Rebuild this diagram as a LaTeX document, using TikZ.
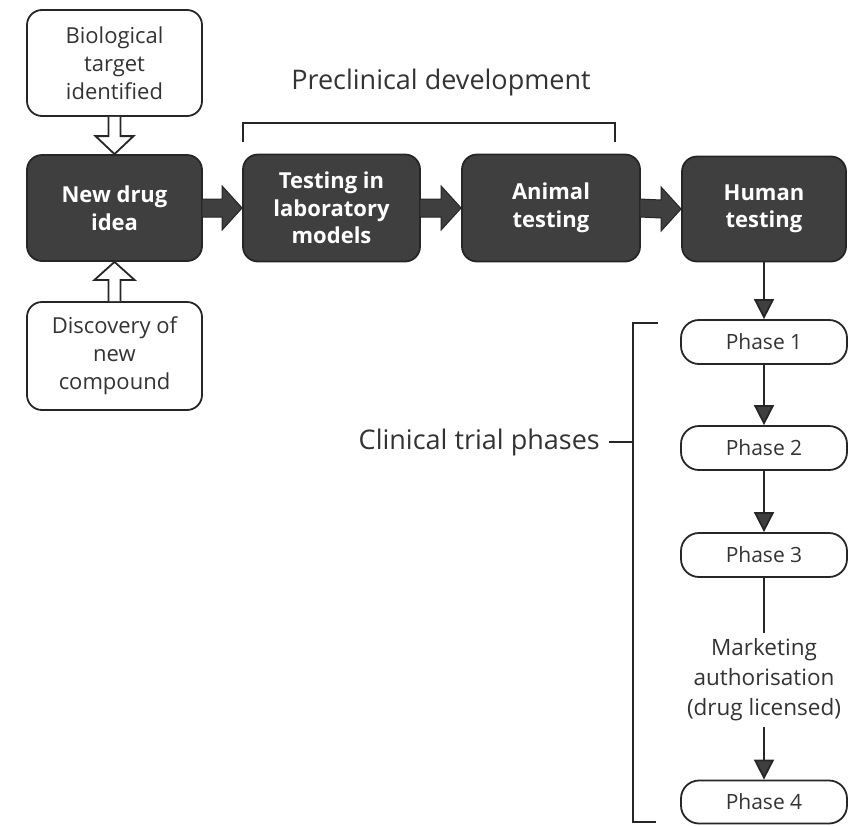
\documentclass[tikz,border=0pt]{standalone}
\usepackage{fontspec}
\setmainfont{Open Sans}
\usetikzlibrary{arrows.meta,calc}
\definecolor{boxdark}{HTML}{3F3F3F}
\definecolor{txt}{HTML}{333333}
\begin{document}
\begin{tikzpicture}[x=1pt,y=-1pt,
  whitebox/.style={draw=black!85,line width=1.8pt,rounded corners=15pt,fill=white,
    text=txt,font=\fontsize{22}{28}\selectfont,align=center,minimum width=175pt,minimum height=106pt,inner sep=0pt},
  darkbox/.style={draw=black!85,line width=1.8pt,rounded corners=15pt,fill=boxdark,
    text=white,font=\bfseries\fontsize{22}{27.5}\selectfont,align=center,inner sep=0pt},
  phasebox/.style={draw=black!85,line width=1.8pt,rounded corners=18pt,fill=white,
    text=txt,font=\fontsize{21}{24}\selectfont,minimum width=166pt,minimum height=44pt,inner sep=0pt},
  hollow/.style={draw=black!85,line width=1.8pt,fill=white,line join=miter},
  solidarr/.style={draw=black!85,line width=1pt,fill=boxdark,line join=miter},
  thinarr/.style={draw=black!85,line width=1.8pt,-{Triangle[width=20pt,length=20pt,fill=boxdark]}},
  brk/.style={draw=black!85,line width=1.8pt},
  lbl/.style={text=txt,font=\fontsize{27}{31}\selectfont,inner sep=0pt}]
\useasboundingbox (0,0) rectangle (848,825);

\node[whitebox] (bio) at (114.5,63) {Biological\\target\\identified};
\node[darkbox,minimum width=175pt,minimum height=106pt] (idea) at (114.5,208) {New drug\\idea};
\node[whitebox,minimum height=108pt] (disc) at (114.5,356) {Discovery of\\new\\compound};
\node[darkbox,minimum width=177pt,minimum height=107pt] (lab) at (331.5,208) {Testing in\\laboratory\\models};
\node[darkbox,minimum width=178pt,minimum height=107pt] (animal) at (551,208) {Animal\\testing};
\node[darkbox,minimum width=164pt,minimum height=105pt] (human) at (764,209) {Human\\testing};

\node[phasebox] (p1) at (764,342) {Phase 1};
\node[phasebox] (p2) at (764,448) {Phase 2};
\node[phasebox] (p3) at (764,555) {Phase 3};
\node[text=txt,font=\fontsize{22.5}{30}\selectfont,align=center,inner sep=0pt] (market) at (764,680) {Marketing\\authorisation\\(drug licensed)};
\node[phasebox,minimum height=43pt] (p4) at (764,802) {Phase 4};

% hollow arrows
\path[hollow] ($(bio.south)+(-6,0)$) -- ($(idea.north)+(-6,-18)$) -- ($(idea.north)+(-19,-18)$)
  -- (idea.north) -- ($(idea.north)+(19,-18)$) -- ($(idea.north)+(6,-18)$) -- ($(bio.south)+(6,0)$);
\path[hollow] ($(disc.north)+(-6,0)$) -- ($(idea.south)+(-6,18)$) -- ($(idea.south)+(-20,18)$)
  -- (idea.south) -- ($(idea.south)+(20,18)$) -- ($(idea.south)+(6,18)$) -- ($(disc.north)+(6,0)$);

% solid block arrows
\foreach \a/\b in {idea/lab,lab/animal,animal/human}{
  \path[solidarr] ($(\a.east)+(-1,-9)$) -- ($(\b.west)+(-20,-9)$) -- ($(\b.west)+(-20,-22)$)
    -- (\b.west) -- ($(\b.west)+(-20,22)$) -- ($(\b.west)+(-20,9)$) -- ($(\a.east)+(-1,9)$) -- cycle;
}

% thin arrows
\draw[thinarr] (human.south) -- (p1.north);
\draw[thinarr] (p1.south) -- (p2.north);
\draw[thinarr] (p2.south) -- (p3.north);
\draw[brk] (p3.south) -- ($(market.north)+(0,-6)$);
\draw[thinarr] ($(market.south)+(0,6)$) -- (p4.north);

% preclinical bracket
\node[lbl] (pre) at (441,82) {Preclinical development};
\coordinate (preL) at (243,123);
\coordinate (preR) at (615,123);
\draw[brk] ($(preL)+(0,19)$) -- (preL) -- (preR) -- ($(preR)+(0,19)$);

% clinical bracket
\node[lbl,anchor=east] (clin) at (600,442) {Clinical trial phases};
\coordinate (cT) at (633,323);
\coordinate (cB) at (633,822);
\coordinate (cM) at (633,442);
\draw[brk] ($(cT)+(25,0)$) -- (cT) -- (cB) -- ($(cB)+(23,0)$);
\draw[brk] ($(clin.east)+(9,0)$) -- (cM);
\end{tikzpicture}
\end{document}
